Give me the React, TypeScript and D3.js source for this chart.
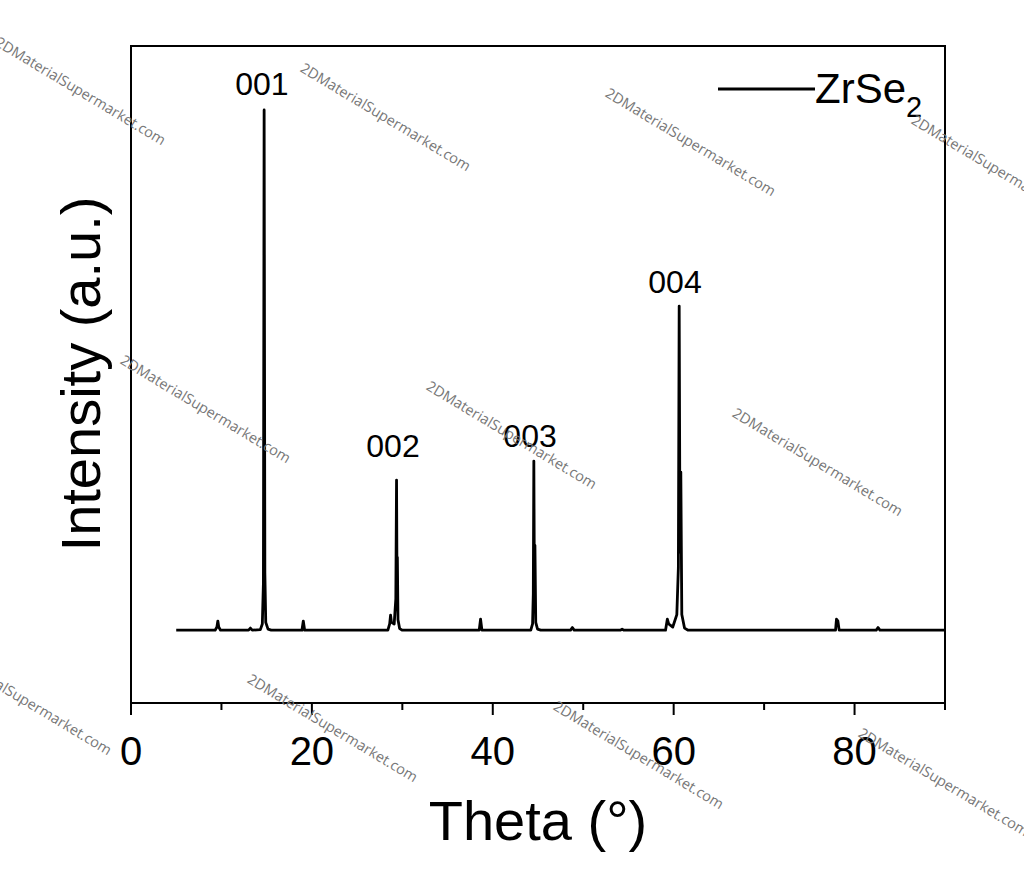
import React from 'react';
import * as d3 from 'd3';

// XRD trace of ZrSe2: [2theta (deg), intensity (counts above background)]
const xrdPattern: [number, number][] = [
  [5.0, 0], [9.3, 0], [9.5, 60], [9.6, 175], [9.7, 60], [9.9, 0],
  [13.0, 0], [13.2, 40], [13.4, 0],
  [14.3, 10], [14.52, 120], [14.64, 900], [14.72, 10000], [14.8, 1100], [14.9, 150], [15.15, 20], [15.5, 0],
  [18.9, 0], [19.05, 175], [19.2, 0],
  [28.4, 0], [28.6, 120], [28.7, 290], [28.8, 150], [29.1, 120], [29.28, 600],
  [29.36, 2885], [29.41, 900], [29.45, 1400], [29.52, 200], [29.7, 30], [30.0, 0],
  [38.5, 0], [38.65, 210], [38.8, 0],
  [44.2, 0], [44.4, 120], [44.48, 700], [44.54, 3250], [44.6, 900], [44.66, 1630], [44.75, 150], [44.95, 20], [45.3, 0],
  [48.6, 0], [48.8, 50], [49.0, 0],
  [54.1, 0], [54.3, 20], [54.5, 0],
  [59.1, 0], [59.3, 210], [59.45, 120], [59.9, 60], [60.35, 300],
  [60.52, 1200], [60.61, 6230], [60.7, 1500], [60.79, 3040], [60.9, 300], [61.2, 40], [61.6, 0],
  [77.9, 0], [78.0, 210], [78.15, 180], [78.3, 0],
  [82.4, 0], [82.6, 50], [82.8, 0],
  [90.0, 0],
];

const peakLabels = ['001', '002', '003', '004'];
const peakLabelTheta = [14.48, 28.97, 44.12, 60.15];
const peakLabelCounts = [10290, 3330, 3520, 6480];

const xTicksMajor = [0, 20, 40, 60, 80];
const xTicksMinor = [10, 30, 50, 70, 90];

const seriesName = 'ZrSe';
const seriesSub = '2';

const watermark = '2DMaterialSupermarket.com';
const watermarkCenters: [number, number][] = [
  [80, 92], [385, 118], [690, 143], [996, 170],
  [205, 410], [511, 436], [817, 463],
  [26, 702], [332, 729], [638, 756], [943, 783],
];

const W = 1024;
const H = 873;
const plot = { left: 131, right: 945, top: 46, bottom: 703 };
const FONT = '"Liberation Sans", Arial, sans-serif';

export default function App() {
  const x = d3.scaleLinear().domain([0, 90]).range([plot.left, plot.right]);
  const y = d3.scaleLinear().domain([-1400, 11230]).range([plot.bottom, plot.top]);

  const line = d3
    .line<[number, number]>()
    .x((d) => x(d[0]))
    .y((d) => y(d[1]));

  return (
    <svg
      width={W}
      height={H}
      style={{ position: 'absolute', left: 0, top: 0, background: '#fff' }}
      fontFamily={FONT}
    >
      <rect x={0} y={0} width={W} height={H} fill="#fff" />

      {/* frame */}
      <rect
        x={plot.left}
        y={plot.top}
        width={plot.right - plot.left}
        height={plot.bottom - plot.top}
        fill="none"
        stroke="#000"
        strokeWidth={2}
      />

      {/* x ticks */}
      {xTicksMajor.map((t) => (
        <line key={'M' + t} x1={x(t)} x2={x(t)} y1={plot.bottom} y2={plot.bottom + 12} stroke="#000" strokeWidth={2} />
      ))}
      {xTicksMinor.map((t) => (
        <line key={'m' + t} x1={x(t)} x2={x(t)} y1={plot.bottom} y2={plot.bottom + 7} stroke="#000" strokeWidth={2} />
      ))}
      {xTicksMajor.map((t) => (
        <text key={'l' + t} x={x(t)} y={765} fontSize={40} textAnchor="middle" fill="#000">
          {t}
        </text>
      ))}

      {/* axis titles */}
      <text x={538} y={840} fontSize={56} textAnchor="middle" fill="#000">
        Theta (°)
      </text>
      <text
        transform={`translate(100,374) rotate(-90)`}
        fontSize={56}
        textAnchor="middle"
        fill="#000"
      >
        Intensity (a.u.)
      </text>

      {/* pattern */}
      <path d={line(xrdPattern) || ''} fill="none" stroke="#000" strokeWidth={2.8} strokeLinejoin="round" />

      {/* peak labels */}
      {peakLabels.map((lab, i) => (
        <text key={lab} x={x(peakLabelTheta[i])} y={y(peakLabelCounts[i])} fontSize={32} textAnchor="middle" fill="#000">
          {lab}
        </text>
      ))}

      {/* legend */}
      <line x1={718} x2={815} y1={89} y2={89} stroke="#000" strokeWidth={2.8} />
      <text x={815} y={103} fontSize={42} fill="#000">
        {seriesName}
        <tspan fontSize={29} dy={14}>
          {seriesSub}
        </tspan>
      </text>

      {/* watermarks */}
      {watermarkCenters.map(([cx, cy], i) => (
        <text
          key={'w' + i}
          transform={`translate(${cx},${cy}) rotate(31)`}
          fontSize={14.5}
          textAnchor="middle"
          dominantBaseline="middle"
          fill="#777"
          fontFamily='"Open Sans", "Noto Sans", sans-serif'
        >
          {watermark}
        </text>
      ))}
    </svg>
  );
}
